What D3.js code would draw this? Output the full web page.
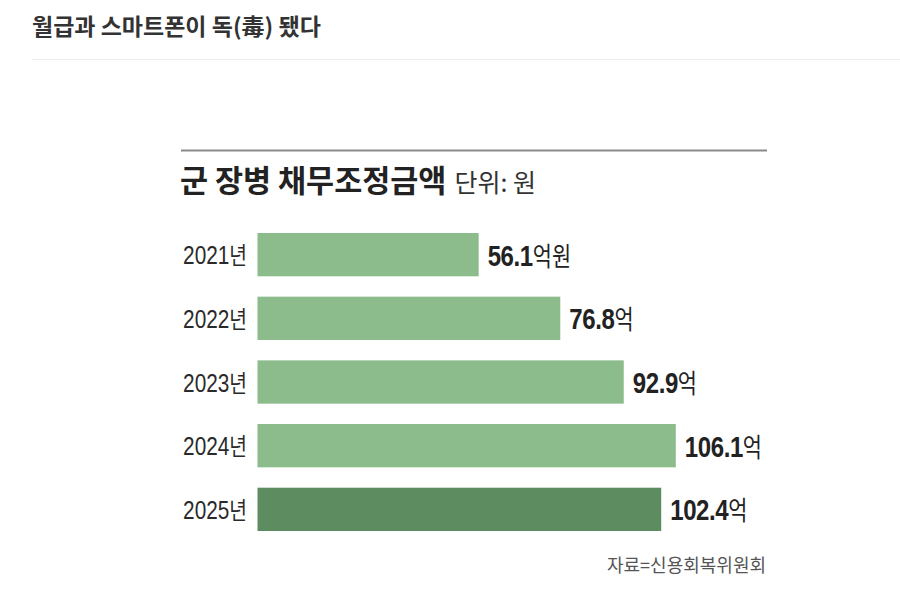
<!DOCTYPE html>
<html>
<head>
<meta charset="utf-8">
<script src="https://cdn.jsdelivr.net/npm/d3@7"></script>
<style>
  html, body { margin: 0; padding: 0; background: #fff; }
  svg { display: block; }
</style>
</head>
<body>
<svg id="chart" width="900" height="598"></svg>
<script>
// chart values
var years = ["2021", "2022", "2023", "2024", "2025"];
var amounts = [56.1, 76.8, 92.9, 106.1, 102.4];
var units = ["억원", "억", "억", "억", "억"];
var highlight = ["2025"];

var KR = "'Noto Sans CJK KR', 'Noto Sans', sans-serif";
var NUM = "'Liberation Sans', Arial, sans-serif";

var svg = d3.select("#chart");

// page headline + divider
svg.append("text")
    .attr("x", 32).attr("y", 35)
    .style("font-family", KR).style("font-weight", 700)
    .style("font-size", "23px").style("fill", "#333")
    .text("월급과 스마트폰이 독(毒) 됐다");

svg.append("line")
    .attr("x1", 32).attr("x2", 900)
    .attr("y1", 59.5).attr("y2", 59.5)
    .style("stroke", "#ececec").style("stroke-width", 1);

// graphic top rule
svg.append("line")
    .attr("x1", 181).attr("x2", 767)
    .attr("y1", 150.5).attr("y2", 150.5)
    .style("stroke", "#8a8a8a").style("stroke-width", 2);

// graphic title
var title = svg.append("text")
    .attr("x", 180).attr("y", 192)
    .style("fill", "#222");
title.append("tspan")
    .style("font-family", KR).style("font-weight", 700).style("font-size", "30.5px")
    .text("군 장병 채무조정금액");
title.append("tspan")
    .attr("dx", 8)
    .style("font-family", KR).style("font-weight", 400).style("font-size", "25px")
    .style("fill", "#333")
    .text("단위: 원");

// scales
var x = d3.scaleLinear()
    .domain([0, 106.1])
    .range([257.5, 675.8]);

var y = d3.scaleBand()
    .domain(years)
    .range([233, 531])
    .paddingInner(0.32)
    .paddingOuter(0);

var data = years.map(function(d, i) {
    return { year: d, value: amounts[i], unit: units[i] };
});

// bars
svg.append("g").selectAll("rect")
    .data(data)
    .enter().append("rect")
    .attr("x", x(0))
    .attr("y", function(d) { return y(d.year); })
    .attr("width", function(d) { return x(d.value) - x(0); })
    .attr("height", y.bandwidth())
    .style("fill", function(d) {
        return highlight.indexOf(d.year) >= 0 ? "#5e8c61" : "#8cbc8b";
    });

// year labels (condensed)
var yearScale = 0.8;
var yl = svg.append("g").selectAll("text")
    .data(data)
    .enter().append("text")
    .attr("transform", function(d) {
        return "translate(247," + (y(d.year) + y.bandwidth() / 2 + 9.5) + ") scale(" + yearScale + ",1)";
    })
    .attr("text-anchor", "end")
    .style("fill", "#2a2a2a");
yl.append("tspan")
    .style("font-family", NUM).style("font-size", "26px")
    .text(function(d) { return d.year; });
yl.append("tspan")
    .style("font-family", KR).style("font-size", "24px")
    .text("년");

// value labels (condensed)
var valScale = 0.8;
var vl = svg.append("g").selectAll("text")
    .data(data)
    .enter().append("text")
    .attr("transform", function(d) {
        return "translate(" + (x(d.value) + 9) + "," + (y(d.year) + y.bandwidth() / 2 + 11) + ") scale(" + valScale + ",1)";
    })
    .style("fill", "#222");
vl.append("tspan")
    .style("font-family", NUM).style("font-weight", 700).style("font-size", "30px")
    .style("letter-spacing", "-0.5px")
    .text(function(d) { return d3.format(".1f")(d.value); });
vl.append("tspan")
    .style("font-family", KR).style("font-weight", 400).style("font-size", "26px")
    .text(function(d) { return d.unit; });

// source
svg.append("text")
    .attr("x", 766).attr("y", 572)
    .attr("text-anchor", "end")
    .style("font-family", KR).style("font-size", "18px")
    .style("fill", "#555")
    .text("자료=신용회복위원회");
</script>
</body>
</html>
